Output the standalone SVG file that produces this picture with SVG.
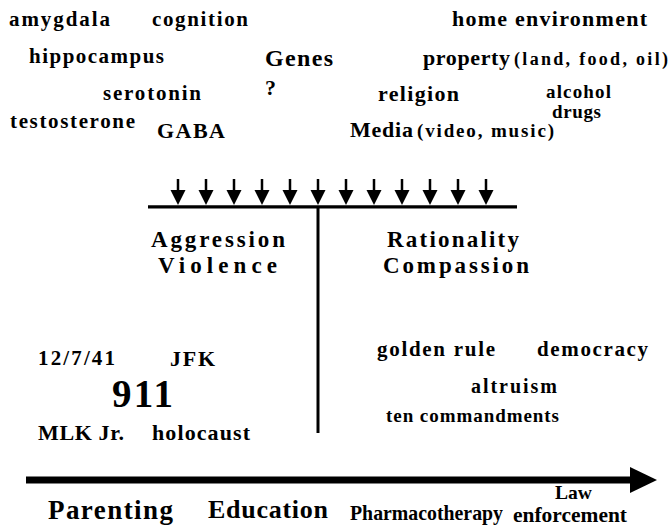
<svg xmlns="http://www.w3.org/2000/svg" width="669" height="526" viewBox="0 0 669 526">
<style>
text{font-family:"Liberation Serif","Times New Roman",serif;font-weight:bold;fill:#000}
.s18{font-size:18px}.s19{font-size:19px}.s20{font-size:20px}.s21{font-size:21px}.s22{font-size:22px}.s23{font-size:23px}
.ln{stroke:#000;fill:none}
</style>
<defs>
<g id="dn"><line x1="0" y1="179" x2="0" y2="192" stroke="#000" stroke-width="2.5"/><polygon points="-7.5,190 7.5,190 0,205" fill="#000"/></g>
</defs>
<rect width="669" height="526" fill="#fff"/>
<g id="connectors">
<line class="ln" x1="148" y1="206.8" x2="517" y2="206.8" stroke-width="3.3"/>
<line class="ln" x1="318" y1="206" x2="318" y2="433" stroke-width="3"/>
<use href="#dn" x="178"/><use href="#dn" x="206"/><use href="#dn" x="234"/><use href="#dn" x="262"/><use href="#dn" x="290"/><use href="#dn" x="318"/><use href="#dn" x="346"/><use href="#dn" x="374"/><use href="#dn" x="402"/><use href="#dn" x="430"/><use href="#dn" x="458"/><use href="#dn" x="486"/>
<line class="ln" x1="26" y1="480" x2="632" y2="480" stroke-width="7"/>
<polygon points="630,467 657,480 630,493" fill="#000"/>
</g>
<g id="n-amygdala"><text class="s21" x="9" y="26" textLength="101" lengthAdjust="spacing">amygdala</text></g>
<g id="n-cognition"><text class="s21" x="152" y="26" textLength="96" lengthAdjust="spacing">cognition</text></g>
<g id="n-hippocampus"><text class="s21" x="29" y="63" textLength="135" lengthAdjust="spacing">hippocampus</text></g>
<g id="n-genes"><text x="265" y="66" textLength="68" lengthAdjust="spacing" style="font-size:24px">Genes</text></g>
<g id="n-q"><text class="s22" x="265" y="95">?</text></g>
<g id="n-serotonin"><text class="s21" x="103" y="100" textLength="98" lengthAdjust="spacing">serotonin</text></g>
<g id="n-testosterone"><text class="s21" x="10" y="128" textLength="125" lengthAdjust="spacing">testosterone</text></g>
<g id="n-gaba"><text class="s22" x="157" y="138" textLength="68" lengthAdjust="spacing">GABA</text></g>
<g id="n-home"><text class="s22" x="452" y="26" textLength="195" lengthAdjust="spacing">home environment</text></g>
<g id="n-property"><text class="s22" x="423" y="65" textLength="87" lengthAdjust="spacing">property</text><text class="s18" x="514" y="65" textLength="154" lengthAdjust="spacing">(land, food, oil)</text></g>
<g id="n-religion"><text class="s22" x="378" y="101" textLength="81" lengthAdjust="spacing">religion</text></g>
<g id="n-alcohol"><text class="s19" x="546" y="98" textLength="65" lengthAdjust="spacing">alcohol</text><text class="s19" x="552" y="118" textLength="49" lengthAdjust="spacing">drugs</text></g>
<g id="n-media"><text class="s22" x="350" y="137" textLength="63" lengthAdjust="spacing">Media</text><text class="s19" x="417" y="137" textLength="137" lengthAdjust="spacing">(video, music)</text></g>
<g id="n-aggression"><text class="s23" x="151" y="247" textLength="134" lengthAdjust="spacing">Aggression</text><text class="s23" x="158" y="273" textLength="119" lengthAdjust="spacing">Violence</text></g>
<g id="n-rationality"><text class="s23" x="387" y="247" textLength="132" lengthAdjust="spacing">Rationality</text><text class="s23" x="383" y="273" textLength="146" lengthAdjust="spacing">Compassion</text></g>
<g id="n-1277"><text class="s21" x="38" y="365" textLength="77" lengthAdjust="spacing">12/7/41</text></g>
<g id="n-jfk"><text class="s22" x="170" y="366" textLength="45" lengthAdjust="spacing">JFK</text></g>
<g id="n-911"><text x="112" y="407" style="font-size:39px" textLength="61" lengthAdjust="spacing">911</text></g>
<g id="n-mlk"><text class="s22" x="38" y="440" textLength="86" lengthAdjust="spacing">MLK Jr.</text></g>
<g id="n-holocaust"><text class="s22" x="152" y="440" textLength="98" lengthAdjust="spacing">holocaust</text></g>
<g id="n-golden"><text class="s21" x="377" y="356" textLength="118" lengthAdjust="spacing">golden rule</text></g>
<g id="n-democracy"><text class="s21" x="537" y="356" textLength="111" lengthAdjust="spacing">democracy</text></g>
<g id="n-altruism"><text class="s20" x="471" y="393" textLength="86" lengthAdjust="spacing">altruism</text></g>
<g id="n-ten"><text class="s19" x="386" y="422" textLength="173" lengthAdjust="spacing">ten commandments</text></g>
<g id="n-parenting"><text x="48" y="519" style="font-size:27px" textLength="125" lengthAdjust="spacing">Parenting</text></g>
<g id="n-education"><text x="208" y="518" style="font-size:26px" textLength="120" lengthAdjust="spacing">Education</text></g>
<g id="n-pharma"><text x="350" y="520" style="font-size:22px" textLength="153" lengthAdjust="spacingAndGlyphs">Pharmacotherapy</text></g>
<g id="n-law"><text x="555" y="499" style="font-size:19px" textLength="37" lengthAdjust="spacingAndGlyphs">Law</text><text x="513" y="522" style="font-size:21px" textLength="114" lengthAdjust="spacingAndGlyphs">enforcement</text></g>
</svg>
